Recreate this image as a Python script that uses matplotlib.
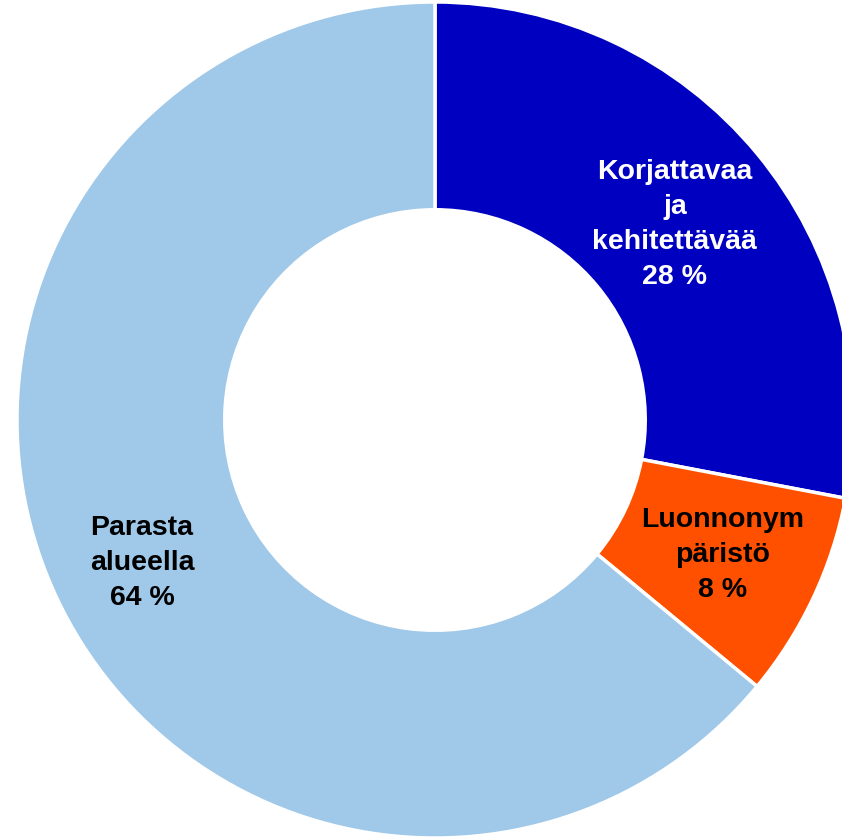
import matplotlib
matplotlib.use("Agg")
import matplotlib.pyplot as plt

labels = ["Korjattavaa\nja\nkehitettävää", "Luonnonym\npäristö", "Parasta\nalueella"]
values = [28, 8, 64]
colors = ["#0000C0", "#FF5000", "#9FC8E9"]
text_colors = ["white", "black", "black"]
label_pos = [(0.574, 0.468), (0.689, -0.322), (-0.701, -0.342)]

plt.rcParams['font.family'] = ['Liberation Sans', 'DejaVu Sans']

fig = plt.figure(figsize=(8.42, 8.39), dpi=100)
ax = fig.add_axes([17 / 842, 1 / 839, 836 / 842, 836 / 839])
ax.pie(values, colors=colors, startangle=90, counterclock=False, radius=1,
       wedgeprops=dict(width=0.497, edgecolor="white", linewidth=2.5))
for lab, v, tc, (x, y) in zip(labels, values, text_colors, label_pos):
    ax.text(x, y, "{}\n{} %".format(lab, v), ha="center", va="center",
            color=tc, fontsize=20.5, fontweight="bold", linespacing=1.45)
ax.set_xlim(-1, 1)
ax.set_ylim(-1, 1)
ax.set_aspect("equal")
ax.axis("off")
fig.savefig("out.png", dpi=100)
